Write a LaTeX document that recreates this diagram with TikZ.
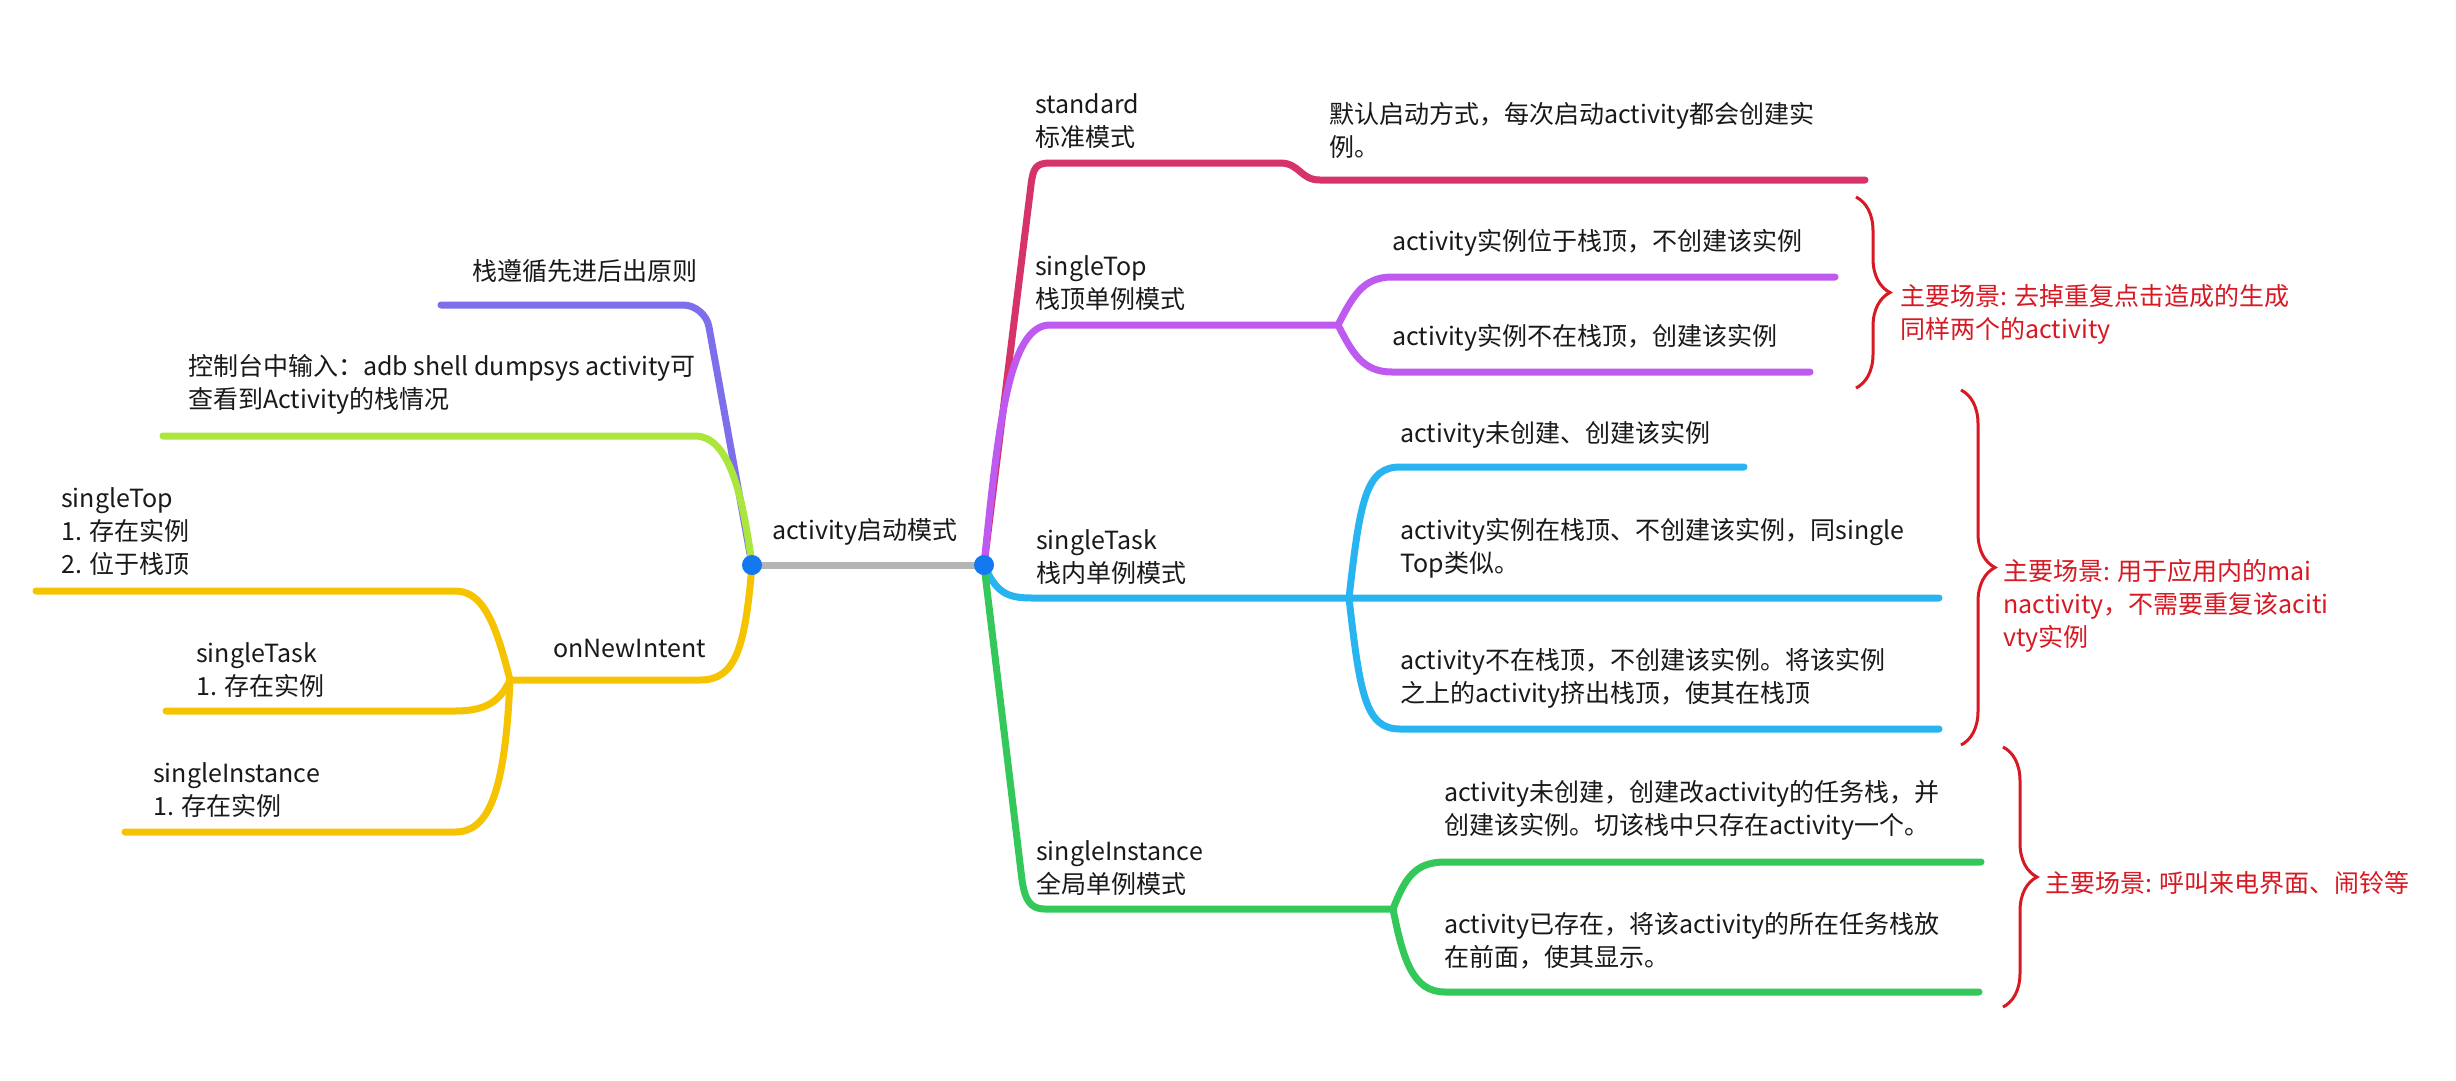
\documentclass[tikz,border=0pt]{standalone}
\usepackage{fontspec}
\setmainfont{Noto Sans CJK SC}
\usetikzlibrary{decorations.pathreplacing}
\definecolor{cred}{RGB}{214,51,107}
\definecolor{cpurple}{RGB}{190,90,240}
\definecolor{cblue}{RGB}{40,180,240}
\definecolor{cgreen}{RGB}{52,199,89}
\definecolor{lpurple}{RGB}{125,110,235}
\definecolor{lgreen}{RGB}{170,230,60}
\definecolor{cyel}{RGB}{245,195,0}
\definecolor{hubblue}{RGB}{20,120,240}
\definecolor{midgray}{RGB}{180,180,180}
\definecolor{nred}{RGB}{215,25,35}
\definecolor{txtc}{RGB}{25,25,25}
\begin{document}
\begin{tikzpicture}[x=1pt,y=-1pt,
  br/.style={line width=7pt, line cap=round, line join=round},
  txt/.style={anchor=west, align=left, inner sep=0pt, font=\fontsize{25}{33}\selectfont, text=txtc},
  note/.style={txt, text=nred},
  hubnode/.style={circle, fill=hubblue, minimum size=20pt, inner sep=0pt},
  bracestyle/.style={draw=nred, line width=3pt, decorate, decoration={brace, amplitude=34pt}}]
\fill[white] (0,0) rectangle (2456,1080);
\useasboundingbox (0,0) rectangle (2456,1080);

% hubs and branch points
\coordinate (L) at (752,565);
\coordinate (R) at (984,565);
\coordinate (yb) at (510,680);
\coordinate (pb) at (1338,325);
\coordinate (bb) at (1349,598);
\coordinate (gb) at (1393,909);
% free ends
\coordinate (e1) at (441,305);
\coordinate (e2) at (163,436);
\coordinate (e3) at (36,591);
\coordinate (e4) at (166,711);
\coordinate (e5) at (125,832);
\coordinate (f1) at (1865,180);
\coordinate (f2) at (1835,277);
\coordinate (f3) at (1810,372);
\coordinate (f4) at (1744,467);
\coordinate (f5) at (1939,598);
\coordinate (f6) at (1939,729);
\coordinate (f7) at (1981,862);
\coordinate (f8) at (1979,992);

% center line
\draw[line width=7pt, midgray] (L) -- (R);

% left branches
\draw[br, lpurple, rounded corners=22pt] (L) -- (705,305) -- (e1);
\draw[br, lgreen] (L) .. controls (742,490) and (728,436) .. (695,436) -- (e2);
\draw[br, cyel] (L) .. controls (745,650) and (735,680) .. (700,680) -- (yb);
\draw[br, cyel] (yb) .. controls (495,620) and (482,591) .. (455,591) -- (e3);
\draw[br, cyel] (yb) .. controls (500,702) and (485,711) .. (455,711) -- (e4);
\draw[br, cyel] (yb) .. controls (505,795) and (488,832) .. (455,832) -- (e5);

% right branches
\draw[br, cred] (R) -- (1031,185) .. controls (1033,168) and (1036,163) .. (1050,163) -- (1280,163) .. controls (1300,163) and (1300,180) .. (1320,180) -- (f1);
\draw[br, cpurple] (R) .. controls (998,430) and (1008,325) .. (1050,325) -- (pb);
\draw[br, cpurple] (pb) .. controls (1352,298) and (1362,277) .. (1392,277) -- (f2);
\draw[br, cpurple] (pb) .. controls (1352,352) and (1362,372) .. (1392,372) -- (f3);
\draw[br, cblue] (R) .. controls (996,592) and (1006,598) .. (1032,598) -- (f5);
\draw[br, cblue] (bb) .. controls (1360,500) and (1366,467) .. (1400,467) -- (f4);
\draw[br, cblue] (bb) .. controls (1360,696) and (1366,729) .. (1400,729) -- (f6);
\draw[br, cgreen] (R) -- (1022,880) .. controls (1025,900) and (1030,909) .. (1045,909) -- (gb);
\draw[br, cgreen] (gb) .. controls (1405,878) and (1415,862) .. (1445,862) -- (f7);
\draw[br, cgreen] (gb) .. controls (1403,960) and (1413,992) .. (1445,992) -- (f8);

\node[hubnode] (Lhub) at (L) {};
\node[hubnode] (Rhub) at (R) {};

% braces
\draw[bracestyle] (1856,197) -- (1856,388);
\draw[bracestyle] (1961,390) -- (1961,745);
\draw[bracestyle] (2003,747) -- (2003,1007);

% texts
\node[txt] (t1) at (472,271) {栈遵循先进后出原则};
\node[txt] (t2) at (188,384) {控制台中输入：adb shell dumpsys activity可\\查看到Activity的栈情况};
\node[txt] (t3) at (61,532) {singleTop\\1. 存在实例\\2. 位于栈顶};
\node[txt] (t4) at (196,670) {singleTask\\1. 存在实例};
\node[txt] (t5) at (153,790) {singleInstance\\1. 存在实例};
\node[txt] (t6) at (553,648) {onNewIntent};
\node[txt] (t7) at (772,532) {activity启动模式};
\node[txt] (t8) at (1035,121) {standard\\标准模式};
\node[txt] (t9) at (1329,130) {默认启动方式，每次启动activity都会创建实\\例。};
\node[txt] (t10) at (1035,283) {singleTop\\栈顶单例模式};
\node[txt] (t11) at (1392,243) {activity实例位于栈顶，不创建该实例};
\node[txt] (t12) at (1392,338) {activity实例不在栈顶，创建该实例};
\node[txt] (t13) at (1036,557) {singleTask\\栈内单例模式};
\node[txt] (t14) at (1400,435) {activity未创建、创建该实例};
\node[txt] (t15) at (1400,548) {activity实例在栈顶、不创建该实例，同single\\Top类似。};
\node[txt] (t16) at (1400,678) {activity不在栈顶，不创建该实例。将该实例\\之上的activity挤出栈顶，使其在栈顶};
\node[txt] (t17) at (1036,868) {singleInstance\\全局单例模式};
\node[txt] (t18) at (1444,810) {activity未创建，创建改activity的任务栈，并\\创建该实例。切该栈中只存在activity一个。};
\node[txt] (t19) at (1444,941) {activity已存在，将该activity的所在任务栈放\\在前面，使其显示。};
\node[note] (n1) at (1900,314) {主要场景: 去掉重复点击造成的生成\\同样两个的activity};
\node[note] (n2) at (2003,606) {主要场景: 用于应用内的mai\\nactivity，不需要重复该aciti\\vty实例};
\node[note] (n3) at (2045,883) {主要场景: 呼叫来电界面、闹铃等};
\end{tikzpicture}
\end{document}
